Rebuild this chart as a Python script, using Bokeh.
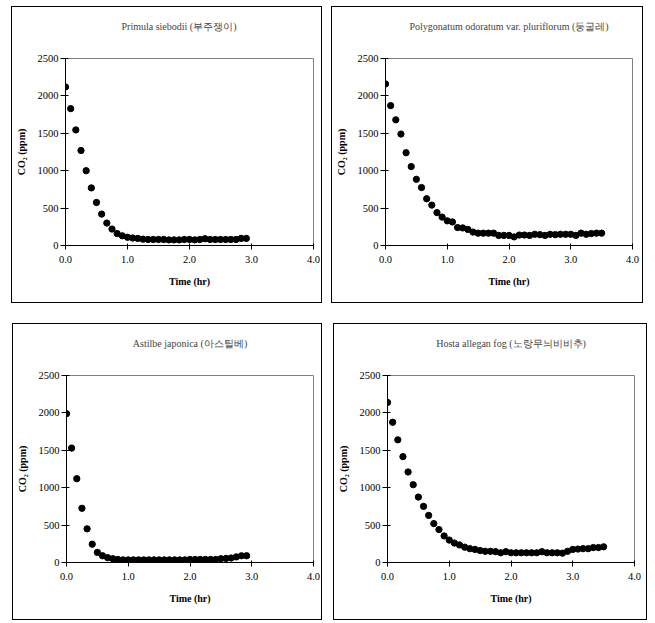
from bokeh.plotting import figure
from bokeh.models import Range1d, NumeralTickFormatter, FixedTicker, Spacer, Title
from bokeh.layouts import row, column
from bokeh.embed import file_html
from bokeh.resources import INLINE

# ---- data (CO2 in ppm, sampled every 5 minutes) ----
titles = [
    "Primula siebodii (부주쟁이)",
    "Polygonatum odoratum var. pluriflorum (둥굴레)",
    "Astilbe japonica (아스틸베)",
    "Hosta allegan fog (노랑무늬비비추)",
]

minutes_p1 = list(range(0, 180, 5))
co2_p1 = [2120, 1830, 1545, 1270, 1000, 770, 575, 420, 300, 220,
          160, 130, 110, 100, 95, 85, 80, 80, 80, 80,
          75, 75, 75, 80, 80, 75, 80, 90, 80, 80,
          80, 80, 80, 80, 95, 95]

minutes_p2 = list(range(0, 215, 5))
co2_p2 = [2160, 1870, 1680, 1490, 1240, 1055, 885, 775, 625, 540,
          440, 380, 330, 315, 240, 235, 215, 180, 165, 165,
          165, 165, 135, 135, 135, 115, 140, 140, 135, 150,
          145, 135, 150, 145, 150, 150, 150, 135, 165, 150,
          160, 165, 165]

minutes_p3 = list(range(0, 180, 5))
co2_p3 = [1990, 1530, 1120, 725, 450, 245, 135, 90, 65, 50,
          40, 35, 35, 35, 35, 35, 35, 35, 35, 35,
          35, 35, 35, 35, 40, 40, 40, 40, 40, 40,
          50, 55, 60, 75, 90, 90]

minutes_p4 = list(range(0, 215, 5))
co2_p4 = [2140, 1875, 1640, 1415, 1210, 1040, 875, 750, 630, 520,
          440, 355, 300, 260, 235, 205, 185, 175, 160, 150,
          150, 145, 130, 145, 130, 130, 130, 130, 130, 130,
          145, 130, 130, 130, 125, 150, 175, 180, 185, 185,
          200, 200, 210]

x_ticks = [0, 1, 2, 3, 4]
y_ticks = [0, 500, 1000, 1500, 2000, 2500]

FONT = "Liberation Serif"
PANEL_H = 297


def make_panel(title, minutes, co2, width, border_left, border_right,
               title_align="center", title_offset=0):
    hours = [m / 60 for m in minutes]
    p = figure(width=width, height=PANEL_H,
               x_range=Range1d(0, 4), y_range=Range1d(0, 2500),
               output_backend="svg", toolbar_location=None,
               min_border_left=border_left, min_border_right=border_right,
               min_border_top=51, min_border_bottom=59)
    p.styles = {"border": "1px solid black", "box-sizing": "border-box"}
    p.scatter(hours, co2, size=6.3, color="black")

    # blank spacer title (closest to the frame) then the real title above it
    p.add_layout(Title(text="\u00a0", text_font=FONT, text_font_size="9.5px"), "above")
    p.add_layout(Title(text=title, text_font=FONT, text_font_size="10px",
                       text_font_style="normal", align=title_align,
                       offset=title_offset), "above")

    p.xgrid.visible = False
    p.ygrid.visible = False
    p.outline_line_color = "#808080"
    p.outline_line_width = 1

    for ax in (p.xaxis[0], p.yaxis[0]):
        ax.axis_line_color = "black"
        ax.major_tick_line_color = "black"
        ax.minor_tick_line_color = None
        ax.major_label_text_font = FONT
        ax.major_label_text_font_size = "10.5px"
        ax.major_label_text_color = "black"
        ax.axis_label_text_font = FONT
        ax.axis_label_text_font_size = "10px"
        ax.axis_label_text_font_style = "bold"
        ax.axis_label_text_color = "black"

    p.xaxis.ticker = FixedTicker(ticks=x_ticks)
    p.xaxis.formatter = NumeralTickFormatter(format="0.0")
    p.xaxis.axis_label = "Time (hr)"
    p.xaxis.major_tick_in = 2
    p.xaxis.major_tick_out = 4
    p.xaxis.major_label_standoff = 6
    p.xaxis.axis_label_standoff = 10

    p.yaxis.ticker = FixedTicker(ticks=y_ticks)
    p.yaxis.axis_label = "CO₂ (ppm)"
    p.yaxis.major_tick_in = 3
    p.yaxis.major_tick_out = 5
    p.yaxis.major_label_standoff = 2
    p.yaxis.axis_label_standoff = 8
    return p


p1 = make_panel(titles[0], minutes_p1, co2_p1, 311, 50, 10,
                title_align="left", title_offset=56)
p2 = make_panel(titles[1], minutes_p2, co2_p2, 312, 49, 12)
p3 = make_panel(titles[2], minutes_p3, co2_p3, 310, 49, 10)
p4 = make_panel(titles[3], minutes_p4, co2_p4, 314, 49, 14)

layout = column(
    Spacer(width=10, height=6),
    row(Spacer(width=11, height=PANEL_H), p1, Spacer(width=9, height=PANEL_H), p2),
    Spacer(width=10, height=20),
    row(Spacer(width=12, height=PANEL_H), p3, Spacer(width=11, height=PANEL_H), p4),
)

open("out.html", "w").write(file_html(layout, INLINE))
